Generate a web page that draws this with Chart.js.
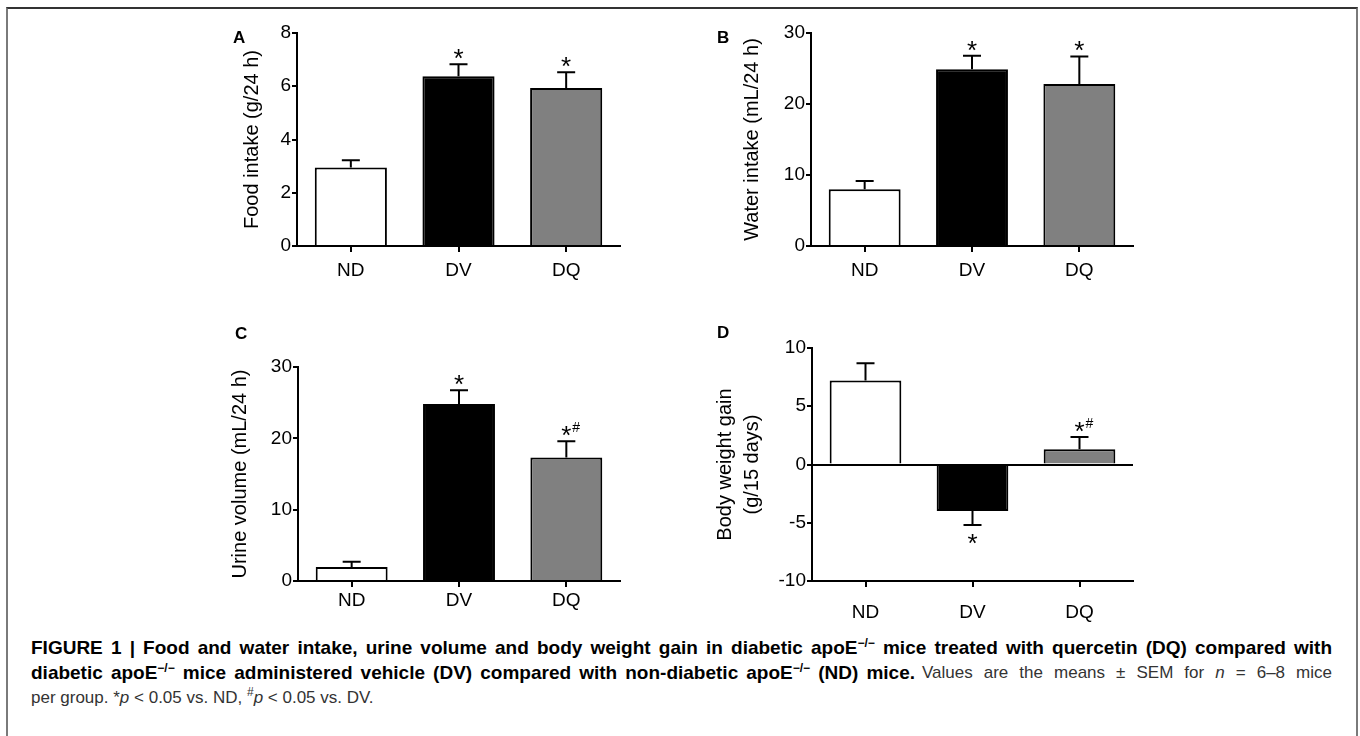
<!DOCTYPE html>
<html>
<head>
<meta charset="utf-8">
<script src="https://cdn.jsdelivr.net/npm/chart.js@4.4.0/dist/chart.umd.min.js"></script>
<style>
html, body { margin: 0; padding: 0; background: #fff; width: 1360px; height: 736px; overflow: hidden; }
#frame { position: absolute; left: 6px; top: 7px; width: 1348px; height: 800px; border: 2px solid #7a7a7a; border-top-color: #333; }
canvas { position: absolute; }
.cap { position: absolute; font-family: "Liberation Sans", Arial, sans-serif; font-size: 17px; line-height: 25px; color: #333; }
.bold { font-weight: bold; color: #000; font-size: 19px; }
.cap sup { font-size: 12px; line-height: 0; vertical-align: 7px; }
.j { text-align: justify; text-align-last: justify; }
</style>
</head>
<body>
<div id="frame"></div>
<canvas id="chartA" width="440" height="300" style="left:200px;top:0px"></canvas>
<canvas id="chartB" width="460" height="300" style="left:690px;top:0px"></canvas>
<canvas id="chartC" width="440" height="330" style="left:200px;top:300px"></canvas>
<canvas id="chartD" width="460" height="330" style="left:690px;top:300px"></canvas>

<div class="cap bold j" style="left:31px;top:635px;width:1301px">FIGURE 1 | Food and water intake, urine volume and body weight gain in diabetic apoE<sup>−/−</sup> mice treated with quercetin (DQ) compared with</div>
<div class="cap bold j" style="left:31px;top:660px;width:884px">diabetic apoE<sup>−/−</sup> mice administered vehicle (DV) compared with non-diabetic apoE<sup>−/−</sup> (ND) mice.</div>
<div class="cap j" style="left:922px;top:660px;width:410px">Values are the means ± SEM for <i>n</i> = 6–8 mice</div>
<div class="cap" style="left:31px;top:685px;width:600px">per group. *<i>p</i> &lt; 0.05 vs. ND, <sup>#</sup><i>p</i> &lt; 0.05 vs. DV.</div>

<script>
const categories = ['ND', 'DV', 'DQ'];
const barColors = ['#ffffff', '#000000', '#808080'];

// means and SEM
const foodMean = [2.95, 6.38, 5.93];
const foodSem = [0.27, 0.45, 0.6];
const waterMean = [8.0, 24.9, 22.8];
const waterSem = [1.15, 1.9, 3.9];
const urineMean = [1.95, 24.8, 17.3];
const urineSem = [0.75, 1.95, 2.3];
const weightMean = [7.2, -4.0, 1.3];
const weightSem = [1.5, 1.2, 1.05];

// significance marks above / below the error bars
const foodMarks = ['', '*', '*'];
const waterMarks = ['', '*', '*'];
const urineMarks = ['', '*', '*#'];
const weightMarks = ['', '*', '*#'];

// y axis tick labels
const foodTicks = [0, 2, 4, 6, 8];
const waterTicks = [0, 10, 20, 30];
const urineTicks = [0, 10, 20, 30];
const weightTicks = [-10, -5, 0, 5, 10];

const FONT = '"Liberation Sans", Arial, sans-serif';

const errorBars = {
    id: 'errorBars',
    afterDatasetsDraw(chart, args, opts) {
        const ctx = chart.ctx;
        const y = chart.scales.y;
        const vals = chart.data.datasets[0].data;
        ctx.save();
        ctx.strokeStyle = '#000';
        ctx.fillStyle = '#000';
        ctx.lineWidth = 2;
        chart.getDatasetMeta(0).data.forEach((bar, i) => {
            const v = vals[i];
            const up = v >= 0;
            const end = y.getPixelForValue(up ? v + opts.sem[i] : v - opts.sem[i]);
            ctx.beginPath();
            ctx.moveTo(bar.x, bar.y);
            ctx.lineTo(bar.x, end);
            ctx.moveTo(bar.x - 9, end);
            ctx.lineTo(bar.x + 9, end);
            ctx.stroke();
            const mark = opts.marks[i];
            if (mark) {
                const ty = up ? end + 3 : end + 27;
                ctx.font = '26px ' + FONT;
                ctx.textAlign = 'center';
                ctx.textBaseline = 'alphabetic';
                ctx.fillText('*', bar.x, ty);
                if (mark.indexOf('#') >= 0) {
                    ctx.font = '14px ' + FONT;
                    ctx.textAlign = 'left';
                    ctx.fillText('#', bar.x + 6, ty - 12);
                }
            }
        });
        ctx.font = 'bold 17px ' + FONT;
        ctx.textAlign = 'left';
        ctx.textBaseline = 'alphabetic';
        ctx.fillText(opts.letter, opts.lx, opts.ly);
        ctx.restore();
    }
};

function makePanel(id, mean, sem, marks, ticks, title, p) {
    return new Chart(document.getElementById(id), {
        type: 'bar',
        data: {
            labels: categories,
            datasets: [{
                data: mean,
                backgroundColor: barColors,
                borderColor: '#000',
                borderWidth: 2,
                barPercentage: 0.67,
                categoryPercentage: 1
            }]
        },
        options: {
            responsive: false,
            animation: false,
            devicePixelRatio: 1,
            layout: { padding: { top: p.top, right: p.right, left: 0, bottom: 0 } },
            plugins: {
                legend: { display: false },
                tooltip: { enabled: false },
                errorBars: { sem: sem, marks: marks, letter: p.letter, lx: p.lx, ly: p.ly }
            },
            scales: {
                x: {
                    grid: { offset: false, drawOnChartArea: false, tickLength: 6, lineWidth: 2, color: '#000' },
                    border: { color: '#000', width: 2 },
                    ticks: { color: '#000', font: { size: 19, family: FONT }, padding: p.xpad },
                    afterFit: s => { s.height = p.xh; }
                },
                y: {
                    min: ticks[0],
                    max: ticks[ticks.length - 1],
                    afterBuildTicks: s => { s.ticks = ticks.map(v => ({ value: v })); },
                    grid: {
                        drawOnChartArea: !!p.zeroLine,
                        color: c => (p.zeroLine && c.tick && c.tick.value === 0) ? '#000' : 'rgba(0,0,0,0)',
                        tickColor: '#000',
                        tickLength: 5,
                        lineWidth: 2
                    },
                    border: { color: '#000', width: 2 },
                    ticks: { color: '#000', font: { size: 19, family: FONT }, padding: 1 },
                    title: {
                        display: true,
                        text: title,
                        color: '#000',
                        font: { size: 20, family: FONT, lineHeight: p.tlh || 1.2 },
                        padding: { top: p.tpad, bottom: 0 }
                    },
                    afterFit: s => { s.width = p.yw; }
                }
            }
        },
        plugins: [errorBars]
    });
}

makePanel('chartA', foodMean, foodSem, foodMarks, foodTicks, 'Food intake (g/24 h)',
    { top: 33, right: 20, yw: 97, xh: 54, xpad: 7, tpad: 40, letter: 'A', lx: 33, ly: 43 });
makePanel('chartB', waterMean, waterSem, waterMarks, waterTicks, 'Water intake (mL/24 h)',
    { top: 33, right: 17, yw: 121, xh: 54, xpad: 7, tpad: 50, letter: 'B', lx: 27, ly: 43 });
makePanel('chartC', urineMean, urineSem, urineMarks, urineTicks, 'Urine volume (mL/24 h)',
    { top: 67, right: 20, yw: 98, xh: 49, xpad: 2, tpad: 28, letter: 'C', lx: 35, ly: 39 });
makePanel('chartD', weightMean, weightSem, weightMarks, weightTicks, ['Body weight gain', '(g/15 days)'],
    { top: 48, right: 17, yw: 122, xh: 49, xpad: 14, tpad: 22, tlh: 1.35, zeroLine: true, letter: 'D', lx: 27, ly: 38 });
</script>
</body>
</html>
